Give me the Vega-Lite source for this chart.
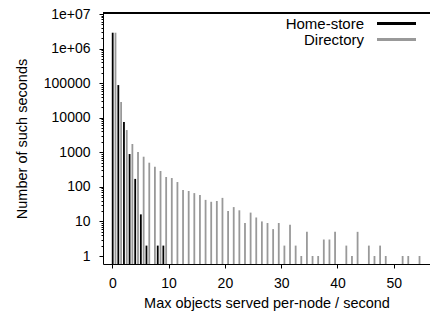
{
  "$schema": "https://vega.github.io/schema/vega-lite/v6.json",
  "width": 327,
  "height": 251,
  "autosize": {"type": "none"},
  "padding": {"left": 103, "top": 13, "right": 0, "bottom": 50},
  "background": "white",
  "config": {
    "view": {"stroke": null},
    "font": "Liberation Sans",
    "axis": {
      "labelFont": "Liberation Sans",
      "titleFont": "Liberation Sans",
      "labelFontSize": 14,
      "titleFontSize": 14.5,
      "titleFontWeight": "normal",
      "labelColor": "#000000",
      "titleColor": "#000000",
      "domain": true,
      "ticks": true,
      "domainColor": "#000000",
      "tickColor": "#000000",
      "domainWidth": 1,
      "tickWidth": 1,
      "grid": false
    },
    "legend": {
      "labelFont": "Liberation Sans",
      "labelFontSize": 15,
      "labelColor": "#000000"
    }
  },
  "data": {
    "values": [
      {"x": 0, "series": "Home-store", "count": 2880000},
      {"x": 1, "series": "Home-store", "count": 88000},
      {"x": 2, "series": "Home-store", "count": 7500},
      {"x": 3, "series": "Home-store", "count": 890},
      {"x": 4, "series": "Home-store", "count": 170},
      {"x": 5, "series": "Home-store", "count": 16},
      {"x": 6, "series": "Home-store", "count": 2},
      {"x": 8, "series": "Home-store", "count": 2},
      {"x": 9, "series": "Home-store", "count": 2},
      {"x": 0, "series": "Directory", "count": 2880000},
      {"x": 1, "series": "Directory", "count": 28500},
      {"x": 2, "series": "Directory", "count": 4400},
      {"x": 3, "series": "Directory", "count": 1740},
      {"x": 4, "series": "Directory", "count": 1020},
      {"x": 5, "series": "Directory", "count": 745},
      {"x": 6, "series": "Directory", "count": 500},
      {"x": 7, "series": "Directory", "count": 383},
      {"x": 8, "series": "Directory", "count": 288},
      {"x": 9, "series": "Directory", "count": 193},
      {"x": 10, "series": "Directory", "count": 180},
      {"x": 11, "series": "Directory", "count": 138},
      {"x": 12, "series": "Directory", "count": 81},
      {"x": 13, "series": "Directory", "count": 76},
      {"x": 14, "series": "Directory", "count": 66},
      {"x": 15, "series": "Directory", "count": 58},
      {"x": 16, "series": "Directory", "count": 42},
      {"x": 17, "series": "Directory", "count": 37},
      {"x": 18, "series": "Directory", "count": 39},
      {"x": 19, "series": "Directory", "count": 48},
      {"x": 20, "series": "Directory", "count": 20},
      {"x": 21, "series": "Directory", "count": 26},
      {"x": 22, "series": "Directory", "count": 21},
      {"x": 23, "series": "Directory", "count": 9},
      {"x": 24, "series": "Directory", "count": 18},
      {"x": 25, "series": "Directory", "count": 13},
      {"x": 26, "series": "Directory", "count": 10},
      {"x": 27, "series": "Directory", "count": 9},
      {"x": 28, "series": "Directory", "count": 6},
      {"x": 29, "series": "Directory", "count": 9},
      {"x": 30, "series": "Directory", "count": 2},
      {"x": 31, "series": "Directory", "count": 8},
      {"x": 32, "series": "Directory", "count": 2},
      {"x": 33, "series": "Directory", "count": 1},
      {"x": 34, "series": "Directory", "count": 5},
      {"x": 35, "series": "Directory", "count": 1},
      {"x": 36, "series": "Directory", "count": 1},
      {"x": 37, "series": "Directory", "count": 3},
      {"x": 38, "series": "Directory", "count": 3},
      {"x": 39, "series": "Directory", "count": 5},
      {"x": 41, "series": "Directory", "count": 2},
      {"x": 42, "series": "Directory", "count": 1},
      {"x": 43, "series": "Directory", "count": 5},
      {"x": 45, "series": "Directory", "count": 2},
      {"x": 46, "series": "Directory", "count": 1},
      {"x": 47, "series": "Directory", "count": 2},
      {"x": 48, "series": "Directory", "count": 1},
      {"x": 51, "series": "Directory", "count": 1},
      {"x": 52, "series": "Directory", "count": 1},
      {"x": 54, "series": "Directory", "count": 1}
    ]
  },
  "encoding": {
    "x": {
      "field": "x", "type": "quantitative",
      "scale": {"domain": [-1.65, 56.43], "nice": false, "zero": false, "padding": 0},
      "axis": {"values": [0, 10, 20, 30, 40, 50], "tickSize": 4, "labelPadding": 8, "titlePadding": 6, "title": "Max objects served per-node / second", "labelFlush": false}
    },
    "y2": {"datum": 0.587},
    "color": {
      "field": "series", "type": "nominal",
      "scale": {"domain": ["Home-store", "Directory"], "range": ["#000000", "#999999"]},
      "legend": {
        "orient": "none", "legendX": 273, "legendY": 3, "title": null, "padding": 0,
        "symbolType": "M-3,-0.23H3V0.23H-3Z", "symbolSize": 169, "symbolOffset": 13, "symbolOpacity": 1,
        "labelAlign": "right", "labelOffset": -40, "rowPadding": 0, "labelLimit": 0
      }
    }
  },
  "layer": [
    {
      "transform": [{"filter": "datum.series === 'Home-store'"}],
      "mark": {"type": "bar", "width": 1.8, "xOffset": 0.4},
      "encoding": {
        "y": {
          "field": "count", "type": "quantitative",
          "scale": {"type": "log", "domain": [0.587, 10700000], "nice": false, "zero": false},
          "axis": {
            "orient": "left",
            "values": [1, 10, 100, 1000, 10000, 100000, 1000000, 10000000],
            "labelExpr": "datum.value >= 1000000 ? replace(format(datum.value, '.0e'), 'e+', 'e+0') : format(datum.value, 'd')",
            "tickSize": 4, "labelPadding": 9, "titlePadding": 14,
            "title": "Number of such seconds", "labelFlush": false
          }
        }
      }
    },
    {
      "transform": [{"filter": "datum.series === 'Directory'"}],
      "mark": {"type": "bar", "width": 1.8, "xOffset": 3.2},
      "encoding": {
        "y": {
          "field": "count", "type": "quantitative",
          "scale": {"type": "log", "domain": [0.587, 10700000], "nice": false, "zero": false},
          "axis": {
            "orient": "left", "labels": false, "domain": false, "title": null, "tickSize": 2,
            "values": [2,3,4,5,6,7,8,9,20,30,40,50,60,70,80,90,200,300,400,500,600,700,800,900,2000,3000,4000,5000,6000,7000,8000,9000,20000,30000,40000,50000,60000,70000,80000,90000,200000,300000,400000,500000,600000,700000,800000,900000,2000000,3000000,4000000,5000000,6000000,7000000,8000000,9000000]
          }
        }
      }
    },
    {
      "mark": {"type": "rule", "color": "#000000", "strokeWidth": 1},
      "encoding": {"y": {"datum": 10700000, "axis": null}, "x": null, "y2": null, "color": null}
    }
  ],
  "resolve": {"axis": {"y": "independent"}}
}
